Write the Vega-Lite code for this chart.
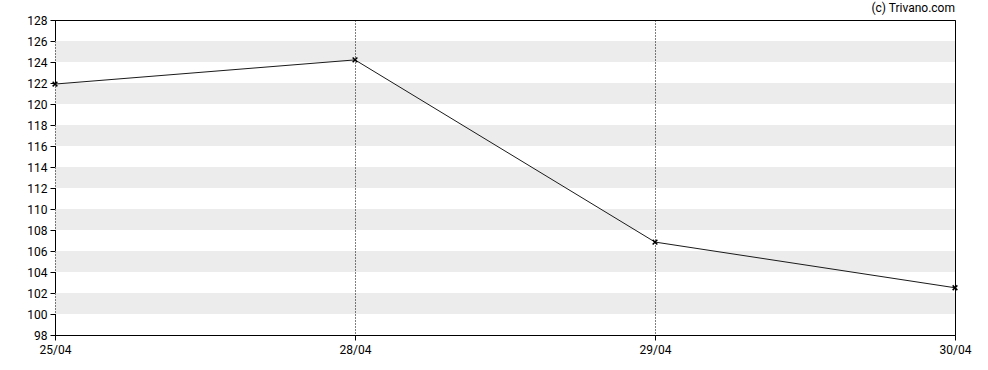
{
  "$schema": "https://vega.github.io/schema/vega-lite/v6.json",
  "width": 900,
  "height": 315,
  "autosize": "none",
  "padding": {"left": 55, "top": 20, "right": 33, "bottom": 35},
  "background": "white",
  "config": {
    "font": "Roboto",
    "view": {"stroke": "black", "strokeWidth": 1},
    "axis": {"labelFont": "Roboto", "labelFontSize": 12, "labelColor": "#000000", "domainColor": "#000000", "tickColor": "#000000", "labelOverlap": false},
    "axisY": {"labelOverlap": false, "labelBound": false}
  },
  "title": {"text": "(c) Trivano.com", "anchor": "end", "frame": "group", "fontSize": 12, "fontWeight": "normal", "font": "Roboto", "color": "#000000", "offset": -1},
  "layer": [
    {
      "data": {"values": [
        {"lo": 100, "hi": 102}, {"lo": 104, "hi": 106}, {"lo": 108, "hi": 110},
        {"lo": 112, "hi": 114}, {"lo": 116, "hi": 118}, {"lo": 120, "hi": 122}, {"lo": 124, "hi": 126}
      ]},
      "mark": {"type": "rect", "color": "#ececec"},
      "encoding": {
        "y": {"field": "lo", "type": "quantitative", "scale": {"domain": [98, 128], "nice": false},
          "axis": {"title": null, "values": [98,100,102,104,106,108,110,112,114,116,118,120,122,124,126,128], "grid": false, "tickSize": 5, "labelPadding": 3, "labelOverlap": false}},
        "y2": {"field": "hi"}
      }
    },
    {
      "data": {"values": [
        {"d": "25/04", "v": 121.9},
        {"d": "28/04", "v": 124.2},
        {"d": "29/04", "v": 106.85},
        {"d": "30/04", "v": 102.5}
      ]},
      "encoding": {
        "x": {"field": "d", "type": "ordinal", "sort": null, "scale": {"type": "point", "padding": 0},
          "axis": {"title": null, "labelAngle": 0, "grid": true, "gridColor": "#000000", "gridOpacity": 1, "gridDash": [1, 2], "gridWidth": 1, "tickSize": 5, "labelPadding": 4, "domain": true, "labelOverlap": false, "zindex": 1}},
        "y": {"field": "v", "type": "quantitative", "scale": {"domain": [98, 128], "nice": false},
          "axis": {"title": null, "values": [98,100,102,104,106,108,110,112,114,116,118,120,122,124,126,128], "grid": false, "tickSize": 5, "labelPadding": 3, "labelOverlap": false}}
      },
      "layer": [
        {"mark": {"type": "line", "color": "#1a1a1a", "strokeWidth": 1}},
        {"mark": {"type": "point", "shape": "M-1,-1L1,1M-1,1L1,-1", "size": 22, "color": "#000000", "strokeWidth": 1.5, "filled": false, "opacity": 1}}
      ]
    }
  ]
}
